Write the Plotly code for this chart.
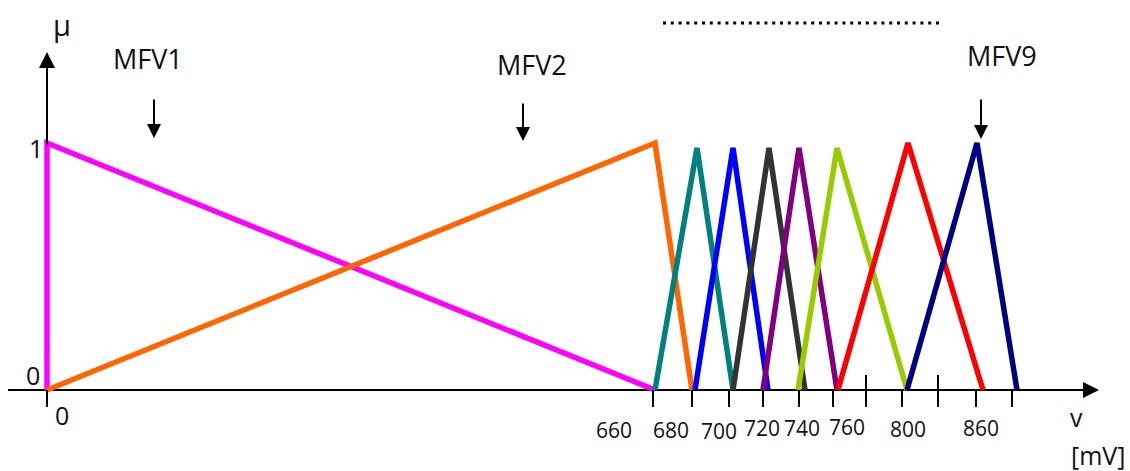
import plotly.graph_objects as go

# ---------------- data (schematic x position, membership value) ----------------
mf_names = ["MFV1", "MFV2", "MFV3", "MFV4", "MFV5", "MFV6", "MFV7", "MFV8", "MFV9"]
mf_x = [
    [47, 47, 655],
    [47, 655, 692],
    [655, 697, 733],
    [695, 733, 768],
    [733, 769, 805],
    [763, 799, 837],
    [798, 837, 907],
    [838, 908, 983],
    [907, 977, 1017],
]
mf_mu = [
    [0, 1.0, 0],
    [0, 1.0, 0],
    [0, 0.98, 0],
    [0, 0.98, 0],
    [0, 0.98, 0],
    [0, 0.98, 0],
    [0, 0.98, 0],
    [0, 1.0, 0],
    [0, 1.0, 0],
]
mf_colors = ["#FF00FF", "#FF6600", "#008080", "#0000FF", "#333333",
             "#800080", "#99CC00", "#FF0000", "#000080"]

tick_x = [47, 653, 692, 729, 763, 799, 833, 866, 902, 938, 976, 1012]
tick_labels = ["0", "660", "680", "700", "720", "740", "760", "800", "860"]
tick_label_x = [62, 614, 671, 719, 762, 802, 847, 908, 981]

# ---------------- geometry helpers ----------------
W, H = 1130, 471
Y_ZERO, Y_ONE = 390, 143          # pixel rows of mu=0 and mu=1


def mu(p):
    return (Y_ZERO - p) / (Y_ZERO - Y_ONE)


FONT = "Open Sans, Lato, sans-serif"

fig = go.Figure()
for name, xs, ys, c in zip(mf_names, mf_x, mf_mu, mf_colors):
    fig.add_trace(go.Scatter(x=xs, y=ys, mode="lines", name=name,
                             line=dict(color=c, width=5.5),
                             hoverinfo="name", showlegend=False))

shapes = []
# x axis line
shapes.append(dict(type="line", xref="x", yref="y", x0=8, x1=1086, y0=0, y1=0,
                   line=dict(color="black", width=2), layer="below"))
# y axis line (below the curves)
shapes.append(dict(type="line", xref="x", yref="y", x0=47, x1=47, y0=0, y1=1,
                   line=dict(color="black", width=2), layer="below"))
# tick marks
for tx in tick_x:
    top = 375 if tx in (866, 938) else 390
    shapes.append(dict(type="line", xref="x", yref="y", x0=tx, x1=tx,
                       y0=mu(top), y1=mu(407), line=dict(color="black", width=2)))
# dotted line
shapes.append(dict(type="line", xref="x", yref="y", x0=663, x1=940, y0=mu(23), y1=mu(23),
                   line=dict(color="black", width=3, dash="3px,4.8px")))

ann = []
# axis arrows
ann.append(dict(x=1099, y=0, ax=1080, ay=0, xref="x", yref="y", axref="x", ayref="y",
                text="", showarrow=True, arrowhead=2, arrowsize=1.6, arrowwidth=2,
                arrowcolor="black"))
ann.append(dict(x=47, y=mu(52), ax=47, ay=mu(146), xref="x", yref="y", axref="x", ayref="y",
                text="", showarrow=True, arrowhead=2, arrowsize=1.6, arrowwidth=2,
                arrowcolor="black"))
# MFV pointer arrows and labels
for lx, ly, axx, top, bot, t in [(148, 58, 154, 98, 138, "MFV1"),
                                 (532, 64, 523, 102, 141, "MFV2"),
                                 (1002, 55, 981, 98, 139, "MFV9")]:
    ann.append(dict(x=axx, y=mu(bot), ax=axx, ay=mu(top), xref="x", yref="y",
                    axref="x", ayref="y", text="", showarrow=True, arrowhead=2,
                    arrowsize=1.4, arrowwidth=2, arrowcolor="black"))
    ann.append(dict(x=lx, y=mu(ly), xref="x", yref="y", text=t, showarrow=False,
                    font=dict(family=FONT, size=27, color="#111"),
                    xanchor="center", yanchor="middle"))

# text labels
def txt(x, p, s, size):
    ann.append(dict(x=x, y=mu(p), xref="x", yref="y", text=s, showarrow=False,
                    font=dict(family=FONT, size=size, color="#111"),
                    xanchor="center", yanchor="middle"))

txt(62, 24, "μ", 29)
txt(36, 148, "1", 25)
txt(33, 375, "0", 25)
label_rows = [415, 430, 430, 431, 428, 428, 427, 429, 428]
for i, (lx, s) in enumerate(zip(tick_label_x, tick_labels)):
    txt(lx, label_rows[i], s, 25 if i == 0 else 21)
txt(1076, 417, "v", 25)
txt(1098, 455, "[mV]", 25)

fig.update_layout(
    width=W, height=H, margin=dict(l=0, r=0, t=0, b=0),
    paper_bgcolor="white", plot_bgcolor="white",
    xaxis=dict(range=[0, W], visible=False, fixedrange=True),
    yaxis=dict(range=[mu(H), mu(0)], visible=False, fixedrange=True),
    shapes=shapes, annotations=ann, showlegend=False,
)

fig.write_html("out.html", config={"displayModeBar": False},
               post_script="document.body.style.margin='0';document.body.style.overflow='hidden';")
